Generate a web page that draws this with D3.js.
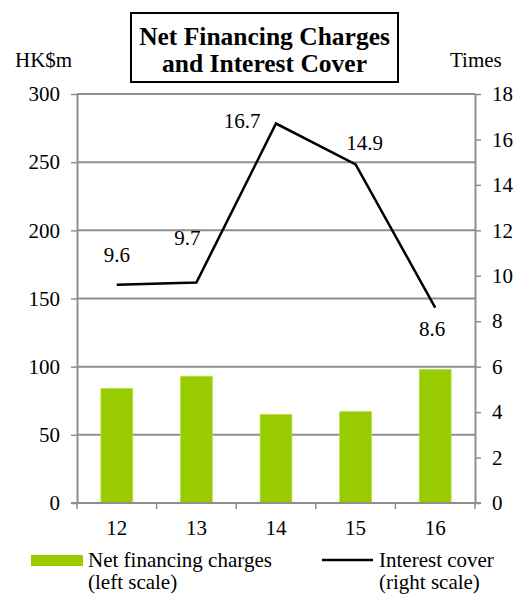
<!DOCTYPE html>
<html>
<head>
<meta charset="utf-8">
<script src="https://cdn.jsdelivr.net/npm/d3@7/dist/d3.min.js"></script>
<style>
  html, body { margin: 0; padding: 0; background: #fff; }
  svg { display: block; }
  svg text { font-family: "Liberation Serif", "Times New Roman", Tinos, serif; }
</style>
</head>
<body>
<div id="chart"></div>
<script>
// Years (2012–2016) and their two measures
const years = ["12", "13", "14", "15", "16"];
const netFinancingCharges = [84, 93, 65, 67, 98];      // HK$m, left scale
const interestCover = [9.6, 9.7, 16.7, 14.9, 8.6];     // times, right scale
const leftTicks = [0, 50, 100, 150, 200, 250, 300];
const rightTicks = [0, 2, 4, 6, 8, 10, 12, 14, 16, 18];

const W = 515, H = 594;
const plot = { left: 77, right: 475, top: 94, bottom: 503 };
const grey = "#8e8e8e";
const green = "#99cc00";
const FONT = '"Liberation Serif", "Times New Roman", Tinos, serif';
const FS = 21;

const svg = d3.select("#chart").append("svg")
  .attr("width", W).attr("height", H)
  .attr("font-family", FONT);

const x = d3.scaleBand().domain(years)
  .range([plot.left, plot.right]).paddingInner(0).paddingOuter(0);
const yL = d3.scaleLinear().domain([0, 300]).range([plot.bottom, plot.top]);
const yR = d3.scaleLinear().domain([0, 18]).range([plot.bottom, plot.top]);

// Horizontal gridlines on the left scale
svg.append("g").selectAll("line").data(leftTicks.filter(d => d > 0)).join("line")
  .attr("x1", plot.left).attr("x2", plot.right)
  .attr("y1", d => yL(d)).attr("y2", d => yL(d))
  .attr("stroke", grey).attr("stroke-width", 2);

// Bars
const barW = x.bandwidth() * 0.4;
svg.append("g").selectAll("rect").data(years).join("rect")
  .attr("x", d => x(d) + (x.bandwidth() - barW) / 2)
  .attr("width", barW)
  .attr("y", (d, i) => yL(netFinancingCharges[i]))
  .attr("height", (d, i) => yL(0) - yL(netFinancingCharges[i]))
  .attr("fill", green)
  .attr("stroke", "#b8e04a").attr("stroke-width", 0.8);

// Axes
function styleAxis(g) {
  g.attr("font-family", FONT).attr("font-size", FS);
  g.select(".domain").attr("stroke", grey).attr("stroke-width", 2);
  g.selectAll(".tick line").attr("stroke", grey).attr("stroke-width", 1.5);
  g.selectAll(".tick text").attr("fill", "#000");
}

svg.append("g").attr("transform", `translate(${plot.left},0)`)
  .call(d3.axisLeft(yL).tickValues(leftTicks).tickSize(6).tickPadding(11).tickSizeOuter(0))
  .call(styleAxis);

svg.append("g").attr("transform", `translate(${plot.right},0)`)
  .call(d3.axisRight(yR).tickValues(rightTicks).tickSize(6).tickPadding(11).tickSizeOuter(0))
  .call(styleAxis);

// Category axis: ticks at band boundaries, labels centred in bands
const xAxis = svg.append("g").attr("transform", `translate(0,${plot.bottom})`)
  .attr("font-size", FS);
xAxis.append("line")
  .attr("x1", plot.left - 6).attr("x2", plot.right + 6)
  .attr("y1", 0).attr("y2", 0)
  .attr("stroke", grey).attr("stroke-width", 2);
const boundaries = years.map(d => x(d)).concat([plot.right]);
xAxis.selectAll("line.tk").data(boundaries).join("line").attr("class", "tk")
  .attr("x1", d => d).attr("x2", d => d).attr("y1", 0).attr("y2", 6)
  .attr("stroke", grey).attr("stroke-width", 1.5);
xAxis.selectAll("text").data(years).join("text")
  .attr("x", d => x(d) + x.bandwidth() / 2).attr("y", 32)
  .attr("text-anchor", "middle").text(d => d);

// Interest cover line
const line = d3.line()
  .x((d, i) => x(years[i]) + x.bandwidth() / 2)
  .y(d => yR(d));
svg.append("path").datum(interestCover)
  .attr("d", line).attr("fill", "none")
  .attr("stroke", "#000").attr("stroke-width", 2.5).attr("stroke-linejoin", "miter");

// Value labels on the line
const labelOffsets = [[0, -23], [-9, -38], [-34, 4], [9, -14], [-3, 28]];
svg.append("g").attr("font-size", FS).selectAll("text").data(interestCover).join("text")
  .attr("x", (d, i) => x(years[i]) + x.bandwidth() / 2 + labelOffsets[i][0])
  .attr("y", (d, i) => yR(d) + labelOffsets[i][1])
  .attr("text-anchor", "middle")
  .text(d => d.toFixed(1));

// Unit labels
svg.append("text").attr("x", 15).attr("y", 67).attr("font-size", FS).text("HK$m");
svg.append("text").attr("x", 450).attr("y", 67).attr("font-size", FS).text("Times");

// Title box
svg.append("rect").attr("x", 131).attr("y", 13).attr("width", 267).attr("height", 69)
  .attr("fill", "#fff").attr("stroke", "#000").attr("stroke-width", 2);
const title = svg.append("text").attr("text-anchor", "middle")
  .attr("font-size", 25.5).attr("font-weight", "bold");
title.append("tspan").attr("x", 264.5).attr("y", 45).text("Net Financing Charges");
title.append("tspan").attr("x", 264.5).attr("y", 72).text("and Interest Cover");

// Legend
const legend = svg.append("g").attr("font-size", FS);
legend.append("rect").attr("x", 31).attr("y", 555).attr("width", 52).attr("height", 11).attr("fill", green);
legend.append("text").attr("x", 88).attr("y", 567).text("Net financing charges");
legend.append("text").attr("x", 88).attr("y", 589).text("(left scale)");
legend.append("line").attr("x1", 322).attr("x2", 373).attr("y1", 560).attr("y2", 560)
  .attr("stroke", "#000").attr("stroke-width", 2.5);
legend.append("text").attr("x", 379).attr("y", 567).text("Interest cover");
legend.append("text").attr("x", 379).attr("y", 589).text("(right scale)");
</script>
</body>
</html>
